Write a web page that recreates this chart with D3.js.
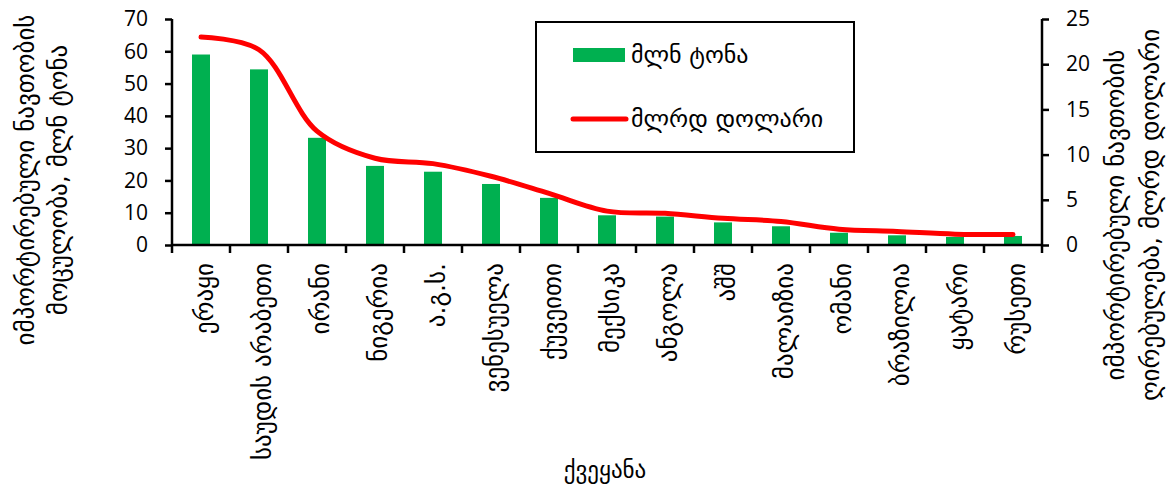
<!DOCTYPE html>
<html><head><meta charset="utf-8">
<script src="https://cdn.jsdelivr.net/npm/d3@7"></script>
<style>
body{margin:0;background:#fff;}
svg text{font-family:"DejaVu Sans","Open Sans",sans-serif;fill:#000;}
</style></head>
<body>
<svg id="c" width="1173" height="488"></svg>
<script>
const categories = ["ერაყი","საუდის არაბეთი","ირანი","ნიგერია","ა.გ.ს.","ვენესუელა","ქუვეითი","მექსიკა","ანგოლა","აშშ","მალაიზია","ომანი","ბრაზილია","ყატარი","რუსეთი"];
const volumeMt = [59, 54.4, 33.2, 24.5, 22.7, 18.9, 14.6, 9.2, 8.8, 7.0, 5.8, 3.8, 3.0, 2.5, 2.8];
const valueBn = [23.0, 21.6, 12.6, 9.6, 9.0, 7.6, 5.7, 3.75, 3.5, 2.95, 2.6, 1.75, 1.5, 1.2, 1.15];
const leftTicks = [0,10,20,30,40,50,60,70];
const rightTicks = [0,5,10,15,20,25];
const leftTitle = ["იმპორტირებული ნავთობის","მოცულობა, მლნ ტონა"];
const rightTitle = ["იმპორტირებული ნავთობის","ღირებულება, მლრდ დოლარი"];
const xTitle = "ქვეყანა";
const legendLabels = ["მლნ ტონა","მლრდ დოლარი"];

const svg = d3.select("#c");
const L = 172, R = 1042, T = 19, B = 245;
const x = d3.scaleBand().domain(categories).range([L, R]).paddingInner(0).paddingOuter(0);
const yL = d3.scaleLinear().domain([0,70]).range([B, T]);
const yR = d3.scaleLinear().domain([0,25]).range([B, T]);
const green = "#00B050", red = "#FF0000";

// bars
const bw = 18;
svg.append("g").selectAll("rect").data(categories).join("rect")
  .attr("x", d => x(d) + x.bandwidth()/2 - bw/2)
  .attr("y", (d,i) => yL(volumeMt[i]))
  .attr("width", bw)
  .attr("height", (d,i) => B - yL(volumeMt[i]))
  .attr("fill", green);

// line
const line = d3.line()
  .x((d,i) => x(categories[i]) + x.bandwidth()/2)
  .y(d => yR(d))
  .curve(d3.curveCatmullRom.alpha(0.5));
svg.append("path").datum(valueBn).attr("d", line)
  .attr("fill","none").attr("stroke", red).attr("stroke-width", 5)
  .attr("stroke-linecap","round").attr("stroke-linejoin","round");

// axes
const axL = svg.append("g").attr("transform",`translate(${L},0)`)
  .call(d3.axisLeft(yL).tickValues(leftTicks).tickSize(7).tickPadding(17));
const axR = svg.append("g").attr("transform",`translate(${R},0)`)
  .call(d3.axisRight(yR).tickValues(rightTicks).tickSize(7).tickPadding(17));
[axL, axR].forEach(a => {
  a.select(".domain").attr("stroke","#000").attr("stroke-width",2.5)
   .attr("d", `M0,${T}V${B}`);
  a.selectAll(".tick line").attr("stroke","#000").attr("stroke-width",2.5);
  a.selectAll(".tick text").style("font-size","21px")
   .style("font-family","'Open Sans','DejaVu Sans',sans-serif").attr("fill","#000");
});
// x axis
const axB = svg.append("g").attr("transform",`translate(0,${B})`);
axB.append("line").attr("x1",L).attr("x2",R).attr("y1",0).attr("y2",0)
  .attr("stroke","#000").attr("stroke-width",2.5);
const bounds = categories.map(c => x(c)).concat([R]);
axB.selectAll("line.tk").data(bounds).join("line").attr("class","tk")
  .attr("x1", d => d).attr("x2", d => d).attr("y1", 0).attr("y2", 8)
  .attr("stroke","#000").attr("stroke-width",2.5);
axB.selectAll("text.cat").data(categories).join("text").attr("class","cat")
  .attr("transform", d => `translate(${x(d)+x.bandwidth()/2+3},18) rotate(-90)`)
  .attr("text-anchor","end").attr("dy","0.35em")
  .style("font-size","25px").text(d => d);

// titles
[[25,0],[58,1]].forEach(([xx,i]) => svg.append("text")
  .attr("transform",`translate(${xx},180) rotate(-90)`)
  .attr("text-anchor","middle").attr("dy","0.35em").style("font-size","25px").text(leftTitle[i]));
[[1115,0],[1150,1]].forEach(([xx,i]) => svg.append("text")
  .attr("transform",`translate(${xx},215) rotate(-90)`)
  .attr("text-anchor","middle").attr("dy","0.35em").style("font-size","25px").text(rightTitle[i]));
svg.append("text").attr("x",605).attr("y",470).attr("dy","0.35em")
  .attr("text-anchor","middle").style("font-size","23px").text(xTitle);

// legend
const lg = svg.append("g");
lg.append("rect").attr("x",536).attr("y",22).attr("width",318).attr("height",130)
  .attr("fill","#fff").attr("stroke","#000").attr("stroke-width",2);
lg.append("rect").attr("x",573).attr("y",48).attr("width",52).attr("height",14).attr("fill",green);
lg.append("line").attr("x1",573).attr("x2",626).attr("y1",119).attr("y2",119)
  .attr("stroke",red).attr("stroke-width",5).attr("stroke-linecap","round");
lg.append("text").attr("x",631).attr("y",55).attr("dy","0.35em").style("font-size","24px").text(legendLabels[0]);
lg.append("text").attr("x",631).attr("y",119).attr("dy","0.35em").style("font-size","24px").text(legendLabels[1]);
</script>
</body></html>
